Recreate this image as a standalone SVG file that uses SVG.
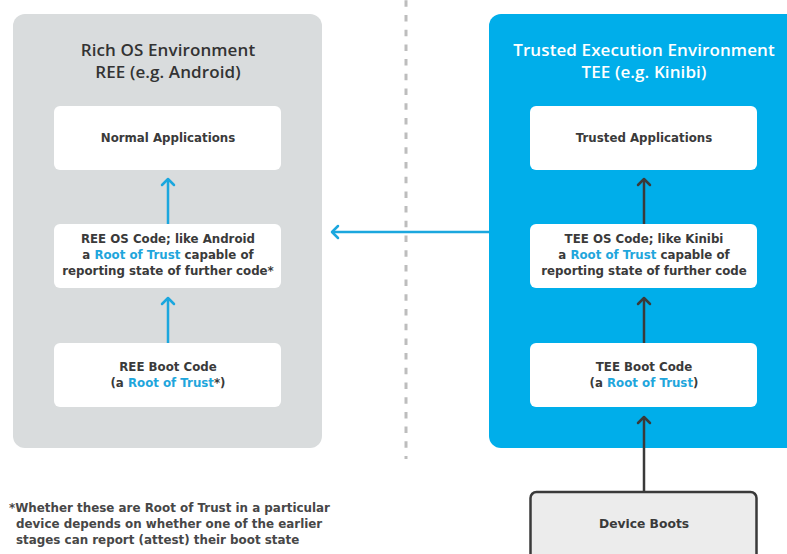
<svg xmlns="http://www.w3.org/2000/svg" width="787" height="554" viewBox="0 0 787 554">
<defs>
<style>
.t{font-family:"Open Sans","Liberation Sans",sans-serif;text-anchor:middle}
.title{font-size:17px;font-weight:600;letter-spacing:0.1px}
.bx{font-family:"DejaVu Sans","Open Sans",sans-serif;font-size:11.8px;font-weight:700;fill:#3a3a3a}
.rot{fill:#1fa6dc}
.box{fill:#fff}
.foot{font-family:"DejaVu Sans","Open Sans",sans-serif;font-size:11.9px;font-weight:700;fill:#474747}
.ab{stroke:#1ba7de;stroke-width:2.5;fill:none}
.ad{stroke:#3a3a3a;stroke-width:2.5;fill:none}
</style>
<marker id="mb" viewBox="-10 -10 20 20" markerWidth="20" markerHeight="20" refX="0" refY="0" orient="auto" markerUnits="userSpaceOnUse">
<path d="M-6,-6 L0,0 L-6,6" fill="none" stroke="#1ba7de" stroke-width="2.5" stroke-linecap="round" stroke-linejoin="round"/>
</marker>
<marker id="md" viewBox="-10 -10 20 20" markerWidth="20" markerHeight="20" refX="0" refY="0" orient="auto" markerUnits="userSpaceOnUse">
<path d="M-6,-6 L0,0 L-6,6" fill="none" stroke="#3a3a3a" stroke-width="2.5" stroke-linecap="round" stroke-linejoin="round"/>
</marker>
</defs>
<rect width="787" height="554" fill="#fff"/>

<g id="ree-panel">
<rect x="13" y="14" width="309" height="434" rx="12" fill="#d9dcdd"/>
<text class="t title" fill="#333" x="168" y="56">Rich OS Environment</text>
<text class="t title" fill="#333" x="168" y="78">REE (e.g. Android)</text>
</g>

<g id="tee-panel">
<rect x="489" y="14" width="310" height="434" rx="12" fill="#00aeea"/>
<text class="t title" fill="#fff" x="644" y="56">Trusted Execution Environment</text>
<text class="t title" fill="#fff" x="644" y="78">TEE (e.g. Kinibi)</text>
</g>

<line id="divider" x1="406" y1="0.3" x2="406" y2="459" stroke="#bdbdbd" stroke-width="3" stroke-dasharray="6.5 8.2"/>

<g id="normal-apps">
<rect class="box" x="54" y="106" width="227" height="64" rx="6"/>
<text class="t bx" x="168" y="142">Normal Applications</text>
</g>

<g id="ree-os">
<rect class="box" x="54" y="224" width="227" height="64" rx="6"/>
<text class="t bx" x="168" y="243">REE OS Code; like Android</text>
<text class="t bx" x="168" y="259">a <tspan class="rot">Root of Trust</tspan> capable of</text>
<text class="t bx" x="168" y="275">reporting state of further code*</text>
</g>

<g id="ree-boot">
<rect class="box" x="54" y="343" width="227" height="64" rx="6"/>
<text class="t bx" x="168" y="371">REE Boot Code</text>
<text class="t bx" x="168" y="387">(a <tspan class="rot">Root of Trust</tspan>*)</text>
</g>

<g id="trusted-apps">
<rect class="box" x="530" y="106" width="227" height="64" rx="6"/>
<text class="t bx" x="644" y="142">Trusted Applications</text>
</g>

<g id="tee-os">
<rect class="box" x="530" y="224" width="227" height="64" rx="6"/>
<text class="t bx" x="644" y="243">TEE OS Code; like Kinibi</text>
<text class="t bx" x="644" y="259">a <tspan class="rot">Root of Trust</tspan> capable of</text>
<text class="t bx" x="644" y="275">reporting state of further code</text>
</g>

<g id="tee-boot">
<rect class="box" x="530" y="343" width="227" height="64" rx="6"/>
<text class="t bx" x="644" y="371">TEE Boot Code</text>
<text class="t bx" x="644" y="387">(a <tspan class="rot">Root of Trust</tspan>)</text>
</g>

<g id="device-boots">
<rect x="530.5" y="492" width="226" height="80" rx="6" fill="#ececec" stroke="#3a3a3a" stroke-width="2.5"/>
<text class="t bx" x="644" y="528" style="font-size:12.3px">Device Boots</text>
</g>

<g id="connectors">
<line class="ab" x1="168" y1="224" x2="168" y2="179" marker-end="url(#mb)"/>
<line class="ab" x1="168" y1="343" x2="168" y2="298" marker-end="url(#mb)"/>
<line class="ab" x1="489" y1="232" x2="332" y2="232" marker-end="url(#mb)"/>
<line class="ad" x1="644" y1="224" x2="644" y2="179" marker-end="url(#md)"/>
<line class="ad" x1="644" y1="343" x2="644" y2="298" marker-end="url(#md)"/>
<line class="ad" x1="644" y1="492" x2="644" y2="417" marker-end="url(#md)"/>
</g>

<g id="footnote">
<text class="foot" x="9" y="512">*Whether these are Root of Trust in a particular</text>
<text class="foot" x="16" y="528">device depends on whether one of the earlier</text>
<text class="foot" x="16" y="544">stages can report (attest) their boot state</text>
</g>
</svg>
